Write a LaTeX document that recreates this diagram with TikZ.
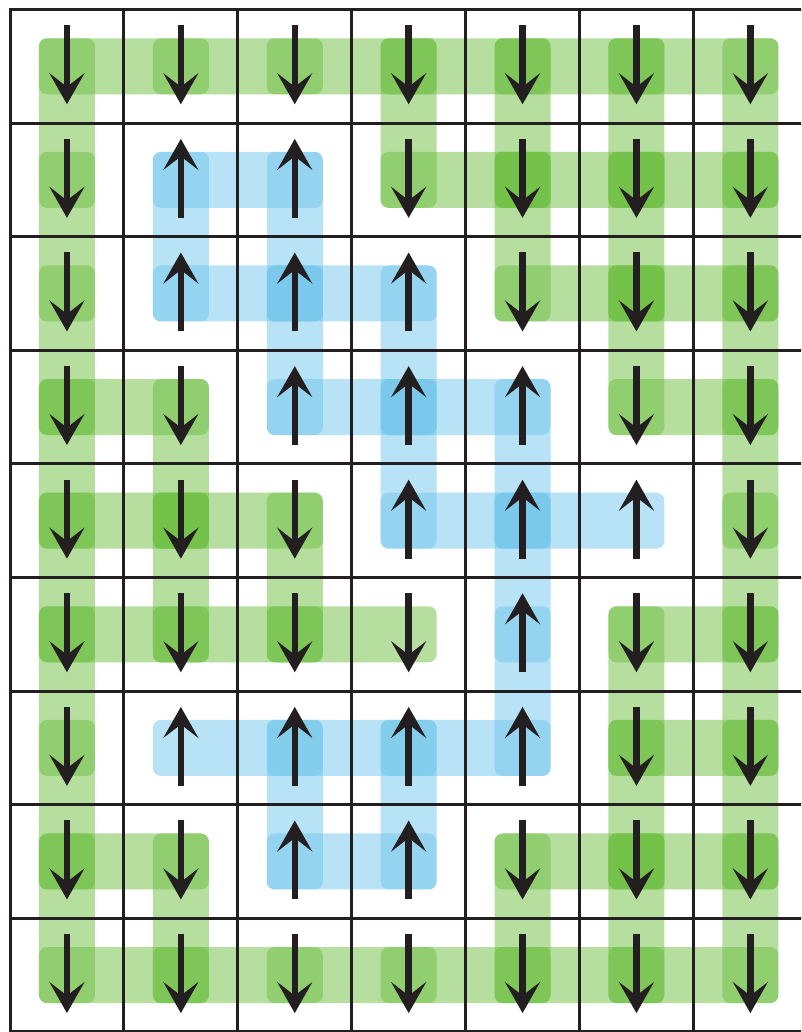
\documentclass[tikz,border=0pt]{standalone}
\usetikzlibrary{arrows.meta}
\definecolor{gbase}{RGB}{109,191,65}
\definecolor{bbase}{RGB}{115,199,236}
\definecolor{ink}{RGB}{35,31,32}
\tikzset{
  gbar/.style={fill=gbase,fill opacity=0.5,rounded corners=8pt},
  bbar/.style={fill=bbase,fill opacity=0.5,rounded corners=8pt},
  gridline/.style={draw=ink,line width=3pt},
  spinarrow/.style={draw=ink,line width=6.5pt,-{Stealth[length=31pt,width=35pt,inset=13.5pt]}},
}
\begin{document}
\begin{tikzpicture}[x=1pt,y=1pt]
\useasboundingbox (0,0) rectangle (801,1032);
\fill[white] (0,0) rectangle (801,1032);
\clip (0,0) rectangle (801,1032);
% cell centres
\foreach \r in {1,...,9}{\foreach \c in {1,...,7}{
  \coordinate (p\r\c) at ({10+113.9*(\c-0.5)},{1032-9.5-113.6*(\r-0.5)});
}}
% green bonds
\foreach \a/\b in {11/12,12/13,13/14,14/15,15/16,16/17,
  24/25,25/26,26/27, 35/36,36/37, 41/42,46/47, 51/52,52/53,
  61/62,62/63,63/64,66/67, 76/77, 81/82,85/86,86/87,
  91/92,92/93,93/94,94/95,95/96,96/97,
  11/21,21/31,31/41,41/51,51/61,61/71,71/81,81/91,
  42/52,52/62,82/92, 53/63, 14/24, 15/25,25/35,85/95,
  16/26,26/36,36/46,66/76,76/86,86/96,
  17/27,27/37,37/47,47/57,57/67,67/77,77/87,87/97}
  \fill[gbar] ([shift={(-28pt,28pt)}]p\a) rectangle ([shift={(28pt,-28pt)}]p\b);
% blue bonds
\foreach \a/\b in {22/23, 32/33,33/34, 43/44,44/45, 54/55,55/56,
  72/73,73/74,74/75, 83/84,
  22/32, 23/33,33/43, 73/83, 34/44,44/54, 74/84, 45/55,55/65,65/75}
  \fill[bbar] ([shift={(-28pt,28pt)}]p\a) rectangle ([shift={(28pt,-28pt)}]p\b);
% grid
\foreach \k in {0,...,7}
  \draw[gridline] ({10+113.9*\k},{1032-8}) -- ({10+113.9*\k},-5);
\foreach \k in {0,...,9}
  \draw[gridline] (8.5,{1032-9.5-113.6*\k}) -- (810,{1032-9.5-113.6*\k});
% down arrows
\foreach \a in {11,12,13,14,15,16,17, 21,24,25,26,27, 31,35,36,37,
  41,42,46,47, 51,52,53,57, 61,62,63,64,66,67, 71,76,77,
  81,82,85,86,87, 91,92,93,94,95,96,97}
  \draw[spinarrow] ([yshift=41pt]p\a) -- ([yshift=-38pt]p\a);
% up arrows
\foreach \a in {22,23,32,33,34,43,44,45,54,55,56,65,72,73,74,75,83,84}
  \draw[spinarrow] ([yshift=-38pt]p\a) -- ([yshift=41pt]p\a);
\end{tikzpicture}
\end{document}
